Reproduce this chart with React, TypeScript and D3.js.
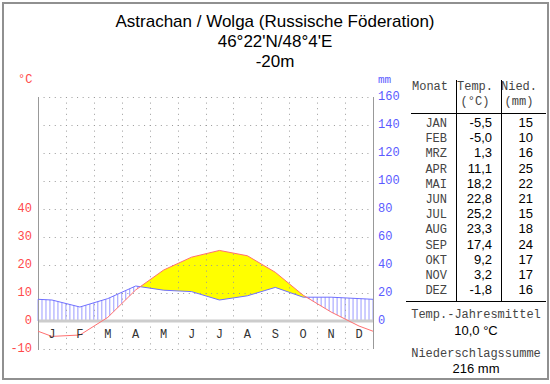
import { scaleLinear, area, line, range } from "d3";

const monthLetters = ["J", "F", "M", "A", "M", "J", "J", "A", "S", "O", "N", "D"];
const monthCodes = ["JAN", "FEB", "MRZ", "APR", "MAI", "JUN", "JUL", "AUG", "SEP", "OKT", "NOV", "DEZ"];
const temps = [-5.5, -5.0, 1.3, 11.1, 18.2, 22.8, 25.2, 23.3, 17.4, 9.2, 3.2, -1.8];
const precip = [15, 10, 16, 25, 22, 21, 15, 18, 24, 17, 17, 16];
const tempTicks = [-10, 0, 10, 20, 30, 40];
const precipTicks = [0, 20, 40, 60, 80, 100, 120, 140, 160];
const gridTemps = [-10, 10, 20, 30, 40, 50, 60, 70, 80];
const titleLines = ["Astrachan / Wolga (Russische Föderation)", "46°22'N/48°4'E", "-20m"];
const meanTemp = 10.0;
const precipSum = 216;

const MONO = "'Liberation Mono', 'Courier New', monospace";
const SANS = "'Liberation Sans', Arial, sans-serif";
const RED = "#ff4a4a";
const BLUE = "#5a5aff";

function comma(v: number) {
  return v.toFixed(1).replace(".", ",");
}

export default function App() {
  const width = 550;
  const height = 384;
  const plot = { left: 38, right: 373, top: 97, bottom: 349 };

  // months run 0..12 along x, temperature -10..80 on y (precip 20mm = 10°C)
  const x = scaleLinear().domain([0, 12]).range([plot.left, plot.right]);
  const y = scaleLinear().domain([-10, 80]).range([plot.bottom, plot.top]);
  const yMm = scaleLinear().domain([-20, 160]).range([plot.bottom, plot.top]);
  const monthWidth = x(1) - x(0);

  // wrap the year: edges take the Dec/Jan midpoint
  const edgeT = (temps[11] + temps[0]) / 2;
  const edgeP = (precip[11] + precip[0]) / 2;
  const ts = [0, ...temps.map((_, i) => i + 0.5), 12];
  const tExt = [edgeT, ...temps, edgeT];
  const pExt = [edgeP, ...precip, edgeP].map((p) => p / 2);
  const tAt = scaleLinear().domain(ts).range(tExt);
  const pAt = scaleLinear().domain(ts).range(pExt);

  const pts: number[] = [];
  ts.forEach((t, i) => {
    pts.push(t);
    if (i < ts.length - 1) {
      const d0 = tExt[i] - pExt[i];
      const d1 = tExt[i + 1] - pExt[i + 1];
      if (d0 * d1 < 0) pts.push(t + ((ts[i + 1] - t) * d0) / (d0 - d1));
    }
  });

  const aridArea = area<number>()
    .x((t) => x(t))
    .y0((t) => y(pAt(t)))
    .y1((t) => y(Math.max(tAt(t), pAt(t))))(pts);
  const tempLine = line<number>()
    .x((t) => x(t))
    .y((t) => y(tAt(t)))(ts);
  const precipLine = line<number>()
    .x((t) => x(t))
    .y((t) => y(pAt(t)))(ts);

  const hatch = range(0, 12 + 1e-6, 1 / 7)
    .map((t) => ({ t, T: tAt(t), P: pAt(t) }))
    .filter((d) => d.P > d.T && d.P > 0);

  const tableX = { month: 447, temp: 492, prec: 533 };
  const rowY = (i: number) => 127 + i * 15.2;

  return (
    <svg
      width={width}
      height={height}
      style={{ position: "absolute", left: 0, top: 0, background: "#fff" }}
    >
      <rect x={3} y={3} width={545} height={376} fill="#fff" stroke="#909090" strokeWidth={2} />

      {titleLines.map((t, i) => (
        <text key={t} x={275} y={26.5 + i * 20} textAnchor="middle" fontFamily={SANS} fontSize={17} fill="#000">
          {t}
        </text>
      ))}

      <path d={aridArea ?? ""} fill="#ffff00" stroke="none" />

      {hatch.map((d) => (
        <line
          key={d.t}
          x1={x(d.t)}
          x2={x(d.t)}
          y1={y(d.P)}
          y2={y(Math.max(d.T, 0))}
          stroke="#9a9aff"
          strokeWidth={1}
        />
      ))}

      {gridTemps.map((g) => (
        <line
          key={g}
          x1={plot.left}
          x2={plot.right}
          y1={Math.round(y(g)) + 0.5}
          y2={Math.round(y(g)) + 0.5}
          stroke="#9a9a9a"
          strokeDasharray={`1 ${monthWidth / 5 - 1}`}
        />
      ))}
      {range(1, 12).map((m) => (
        <line
          key={m}
          x1={Math.round(x(m)) + 0.5}
          x2={Math.round(x(m)) + 0.5}
          y1={plot.top}
          y2={plot.bottom}
          stroke="#9a9a9a"
          strokeDasharray={`1 ${(y(0) - y(10)) / 5 - 1}`}
        />
      ))}

      <line x1={plot.left} x2={plot.right} y1={y(0)} y2={y(0)} stroke="#cccccc" strokeWidth={3} />
      <line x1={plot.left + 0.5} x2={plot.left + 0.5} y1={plot.top} y2={plot.bottom} stroke="#999" />
      <line x1={plot.right + 0.5} x2={plot.right + 0.5} y1={plot.top} y2={plot.bottom} stroke="#999" />

      <path d={precipLine ?? ""} fill="none" stroke="#7070ff" strokeWidth={1} />
      <path d={tempLine ?? ""} fill="none" stroke="#ff7070" strokeWidth={1} />

      {monthLetters.map((m, i) => (
        <text
          key={i}
          x={x(i + 0.5)}
          y={335}
          textAnchor="middle"
          dominantBaseline="central"
          fontFamily={MONO}
          fontSize={12}
          fill="#333"
        >
          {m}
        </text>
      ))}

      {tempTicks.map((t) => (
        <text key={t} x={32} y={y(t)} textAnchor="end" dominantBaseline="central" fontFamily={MONO} fontSize={12} fill={RED}>
          {t}
        </text>
      ))}
      <text x={18} y={80} dominantBaseline="central" fontFamily={MONO} fontSize={12} fill={RED}>
        °C
      </text>

      {precipTicks.map((p) => (
        <text key={p} x={378} y={yMm(p)} dominantBaseline="central" fontFamily={MONO} fontSize={12} fill={BLUE}>
          {p}
        </text>
      ))}
      <text x={378} y={80} dominantBaseline="central" fontFamily={MONO} fontSize={11} fill={BLUE}>
        mm
      </text>

      <g fontFamily={MONO} fontSize={12} fill="#444">
        <text x={412} y={90}>Monat</text>
        <text x={475} y={90} textAnchor="middle">Temp.</text>
        <text x={475} y={105} textAnchor="middle">(°C)</text>
        <text x={519} y={90} textAnchor="middle">Nied.</text>
        <text x={519} y={105} textAnchor="middle">(mm)</text>
      </g>
      <line x1={456.5} x2={456.5} y1={80} y2={301} stroke="#000" />
      <line x1={501.5} x2={501.5} y1={80} y2={301} stroke="#000" />
      <line x1={411} x2={546} y1={113.5} y2={113.5} stroke="#000" />
      <line x1={406} x2={546} y1={301.5} y2={301.5} stroke="#000" />

      {monthCodes.map((m, i) => (
        <g key={m}>
          <text x={tableX.month} y={rowY(i)} textAnchor="end" fontFamily={MONO} fontSize={12} fill="#444">
            {m}
          </text>
          <text x={tableX.temp} y={rowY(i)} textAnchor="end" fontFamily={SANS} fontSize={13} fill="#000">
            {comma(temps[i])}
          </text>
          <text x={tableX.prec} y={rowY(i)} textAnchor="end" fontFamily={SANS} fontSize={13} fill="#000">
            {precip[i]}
          </text>
        </g>
      ))}

      <text x={476} y={318} textAnchor="middle" fontFamily={MONO} fontSize={12} fill="#444">
        Temp.-Jahresmittel
      </text>
      <text x={476} y={335} textAnchor="middle" fontFamily={SANS} fontSize={13} fill="#000">
        {comma(meanTemp)} °C
      </text>
      <text x={476} y={357} textAnchor="middle" fontFamily={MONO} fontSize={12} fill="#444">
        Niederschlagssumme
      </text>
      <text x={476} y={373} textAnchor="middle" fontFamily={SANS} fontSize={13} fill="#000">
        {precipSum} mm
      </text>
    </svg>
  );
}
